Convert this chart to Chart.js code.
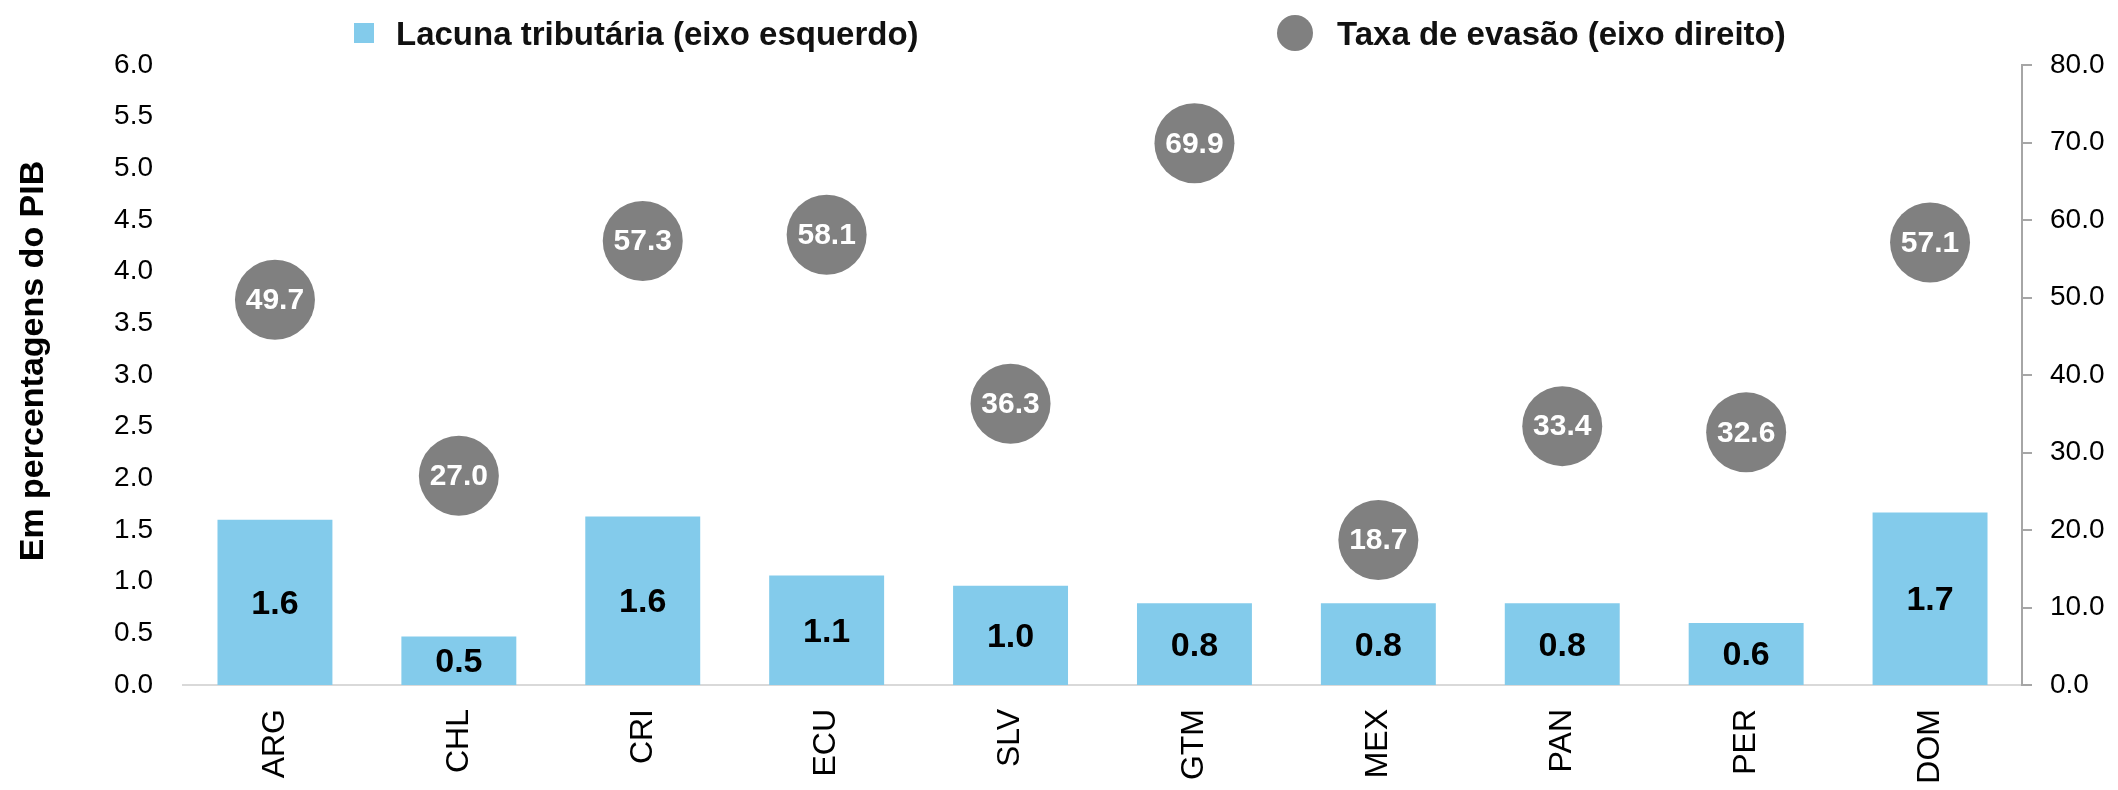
<!DOCTYPE html>
<html>
<head>
<meta charset="utf-8">
<script src="https://cdn.jsdelivr.net/npm/chart.js@4.4.1/dist/chart.umd.min.js"></script>
<style>
  body { margin: 0; background: #fff; }
  #wrap { position: relative; width: 2118px; height: 790px; }
  .leg { position: absolute; top: 17px; font-family: "Liberation Sans", Arial, sans-serif; font-weight: 700; font-size: 33px; color: #111; white-space: nowrap; line-height: 33px; }
  .sw { position: absolute; }
</style>
</head>
<body>
<div id="wrap">
  <canvas id="myChart" width="2118" height="790"></canvas>
  <div class="sw" style="left:354px;top:23px;width:20px;height:20px;background:#83CBEB"></div>
  <div class="leg" style="left:396px">Lacuna tributária (eixo esquerdo)</div>
  <div class="sw" style="left:1277px;top:15px;width:36px;height:36px;border-radius:50%;background:#808080"></div>
  <div class="leg" style="left:1337px">Taxa de evasão (eixo direito)</div>
</div>
<script>
const countries = ['ARG','CHL','CRI','ECU','SLV','GTM','MEX','PAN','PER','DOM'];
const gapPib = [1.60, 0.47, 1.63, 1.06, 0.96, 0.79, 0.79, 0.79, 0.60, 1.67];
const evasion = [49.7, 27.0, 57.3, 58.1, 36.3, 69.9, 18.7, 33.4, 32.6, 57.1];
const leftTicks = ['0.0','0.5','1.0','1.5','2.0','2.5','3.0','3.5','4.0','4.5','5.0','5.5','6.0'];
const rightTicks = ['0.0','10.0','20.0','30.0','40.0','50.0','60.0','70.0','80.0'];
const yTitle = 'Em percentagens do PIB';

const FONT = '"Liberation Sans", Arial, sans-serif';

// value labels inside bars and bubbles, plus the left axis title
const valueLabels = {
  id: 'valueLabels',
  afterDatasetsDraw(chart) {
    const ctx = chart.ctx;
    ctx.save();
    ctx.textAlign = 'center';
    ctx.textBaseline = 'middle';
    chart.getDatasetMeta(0).data.forEach((bar, i) => {
      ctx.font = 'bold 34px ' + FONT;
      ctx.fillStyle = '#000';
      ctx.fillText(gapPib[i].toFixed(1), bar.x, (bar.y + bar.base) / 2 + 2);
    });
    chart.getDatasetMeta(1).data.forEach((pt, i) => {
      ctx.font = 'bold 30px ' + FONT;
      ctx.fillStyle = '#fff';
      ctx.fillText(evasion[i].toFixed(1), pt.x, pt.y + 1);
    });
    // y axis title
    ctx.translate(34, 361);
    ctx.rotate(-Math.PI / 2);
    ctx.font = 'bold 34px ' + FONT;
    ctx.fillStyle = '#000';
    ctx.fillText(yTitle, 0, 0);
    ctx.restore();
  }
};

const ctx = document.getElementById('myChart').getContext('2d');
const myChart = new Chart(ctx, {
  data: {
    labels: countries,
    datasets: [{
      type: 'bar',
      label: 'Lacuna tributária (eixo esquerdo)',
      data: gapPib,
      backgroundColor: '#83CBEB',
      yAxisID: 'y',
      categoryPercentage: 1,
      barPercentage: 0.625,
      order: 2
    }, {
      type: 'line',
      label: 'Taxa de evasão (eixo direito)',
      data: evasion,
      showLine: false,
      pointRadius: 40,
      pointHoverRadius: 40,
      pointBackgroundColor: '#808080',
      pointBorderWidth: 0,
      yAxisID: 'y1',
      order: 1
    }]
  },
  options: {
    responsive: false,
    animation: false,
    layout: { padding: { top: 65, left: 0, right: 0, bottom: 0 } },
    plugins: {
      legend: { display: false },
      tooltip: { enabled: false }
    },
    scales: {
      x: {
        grid: { display: false, drawTicks: false },
        border: { display: true, color: '#D9D9D9', width: 2 },
        ticks: { color: '#000', font: { family: FONT, size: 32 }, minRotation: 90, maxRotation: 90, padding: 24 },
        afterFit(s) { s.height = 105; }
      },
      y: {
        position: 'left',
        min: 0, max: 6,
        grid: { display: false, drawTicks: false },
        border: { display: false },
        ticks: {
          stepSize: 0.5,
          color: '#000',
          font: { family: FONT, size: 28 },
          padding: 30,
          callback: (v, i) => leftTicks[i]
        },
        afterFit(s) { s.width = 183; }
      },
      y1: {
        position: 'right',
        min: 0, max: 80,
        grid: { display: true, drawOnChartArea: false, drawTicks: true, tickLength: 10, color: '#A6A6A6', lineWidth: 2 },
        border: { display: true, color: '#A6A6A6', width: 2 },
        ticks: {
          stepSize: 10,
          color: '#000',
          font: { family: FONT, size: 28 },
          padding: 18,
          callback: (v, i) => rightTicks[i]
        },
        afterFit(s) { s.width = 96; }
      }
    }
  },
  plugins: [valueLabels]
});
</script>
</body>
</html>
